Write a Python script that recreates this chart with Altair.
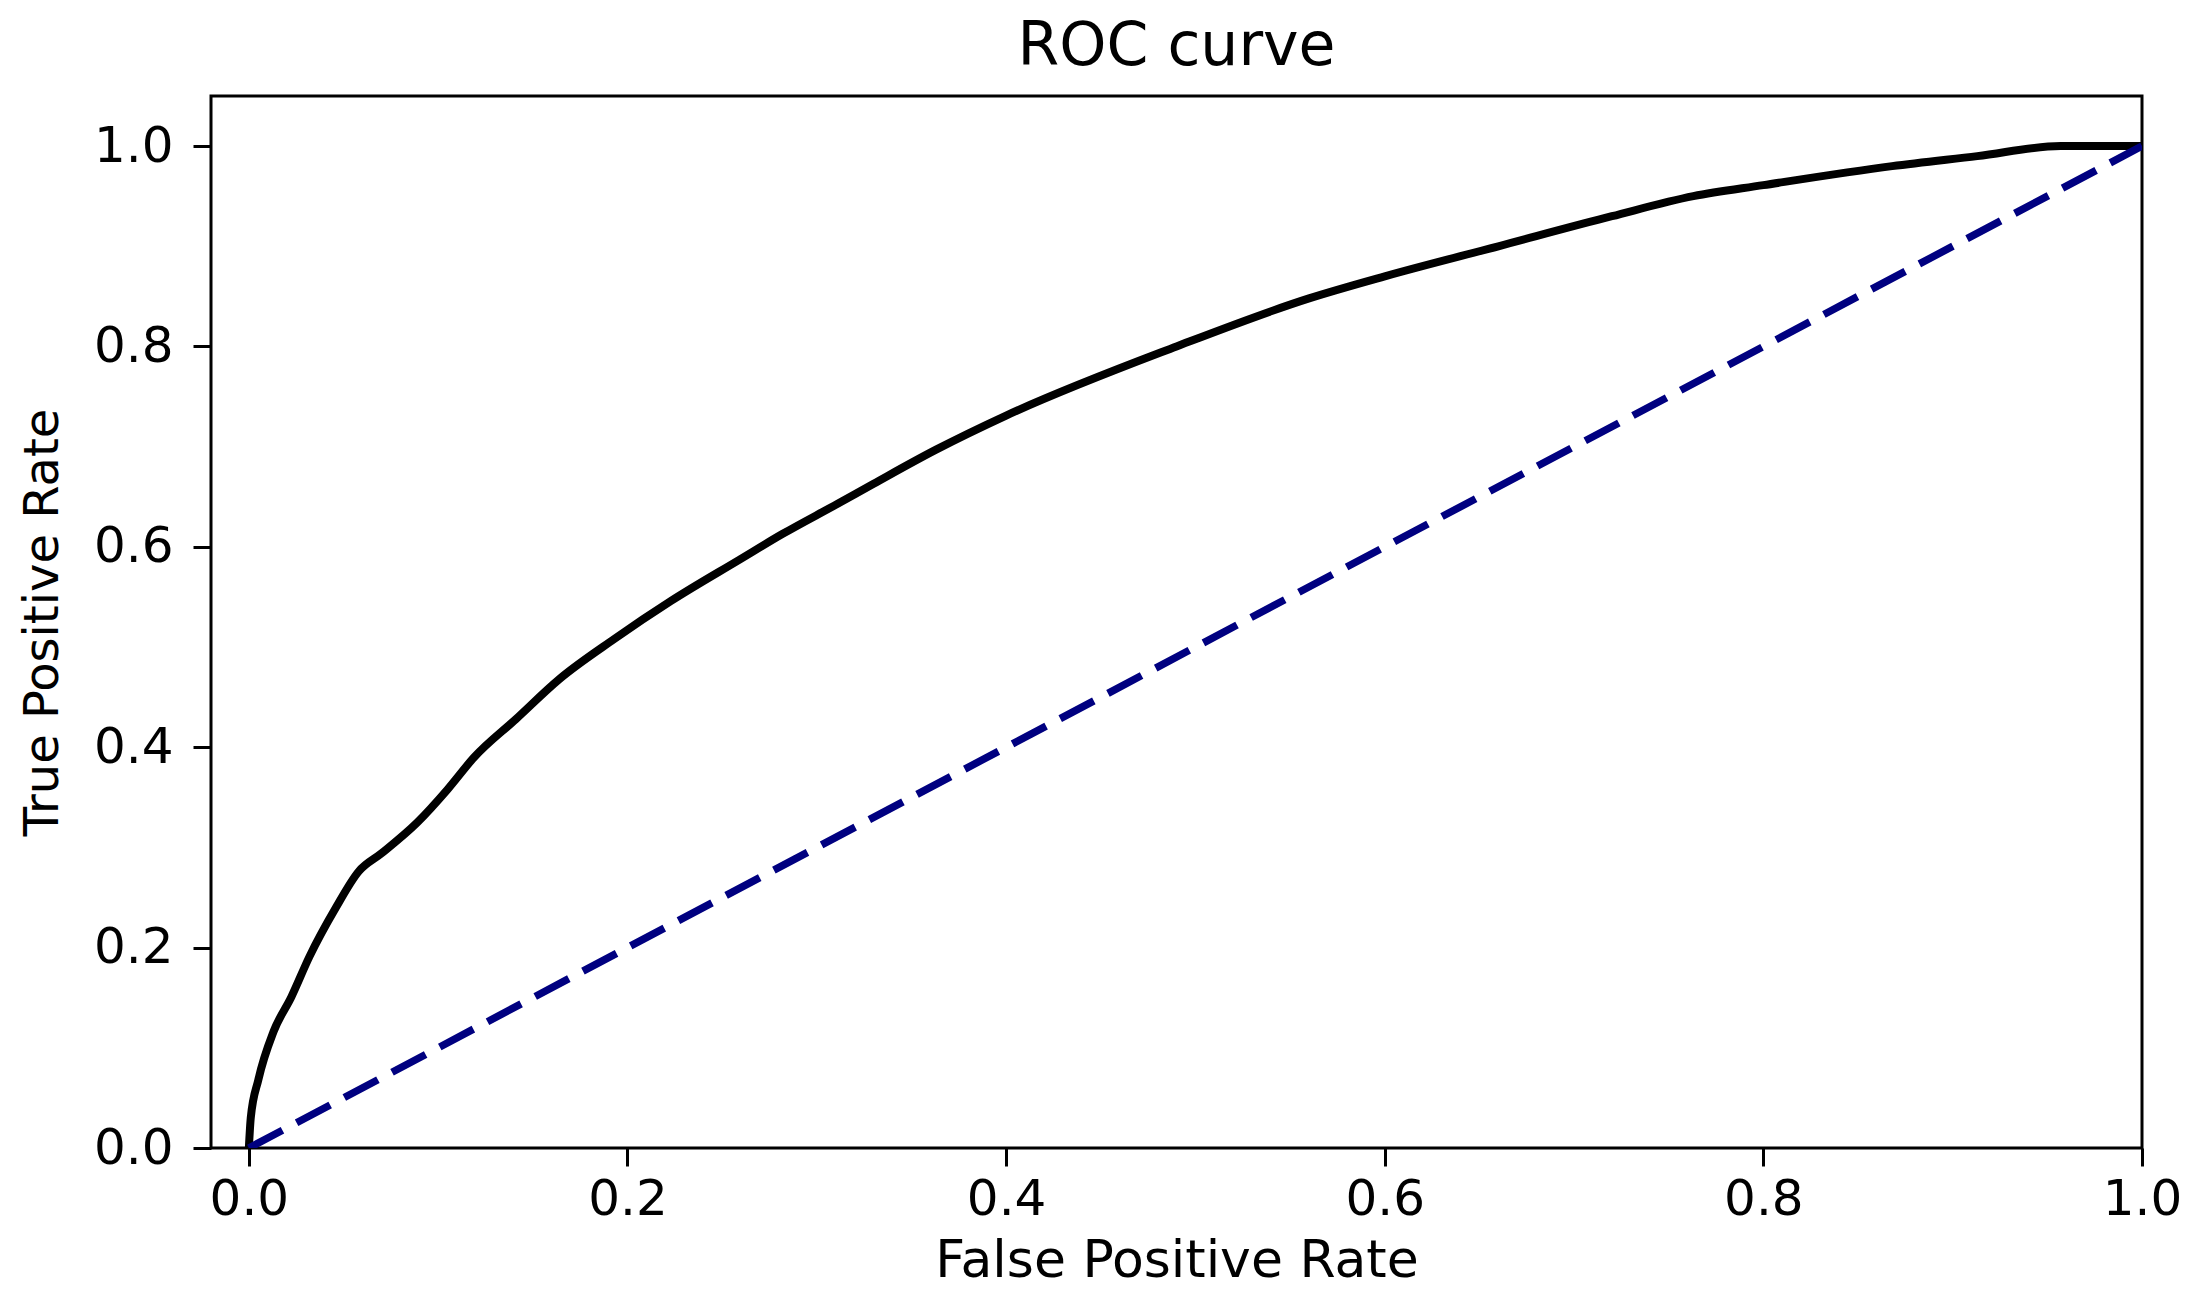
import altair as alt
import pandas as pd

# ROC curve points
fpr = [0.0, 0.001, 0.005, 0.013, 0.0225, 0.032, 0.046, 0.058, 0.070, 0.089, 0.105,
       0.119, 0.141, 0.164, 0.193, 0.223, 0.259, 0.282, 0.311, 0.330, 0.363, 0.400,
       0.490, 0.560, 0.600, 0.660, 0.720, 0.763, 0.800, 0.868, 0.913, 0.957, 1.0]
tpr = [0.0, 0.030, 0.068, 0.116, 0.151, 0.191, 0.240, 0.276, 0.294, 0.325, 0.358,
       0.390, 0.428, 0.468, 0.508, 0.546, 0.587, 0.613, 0.643, 0.663, 0.697, 0.731,
       0.800, 0.848, 0.870, 0.900, 0.930, 0.950, 0.961, 0.980, 0.990, 1.000, 1.0]
diag_x = [0.0, 1.0]
diag_y = [0.0, 1.0]
ticks = [0.0, 0.2, 0.4, 0.6, 0.8, 1.0]

roc = pd.DataFrame({"fpr": fpr, "tpr": tpr, "order": list(range(len(fpr)))})
diag = pd.DataFrame({"fpr": diag_x, "tpr": diag_y})

FONT = "DejaVu Sans"

xscale = alt.Scale(domain=[-0.02, 1.0], nice=False, zero=False)
yscale = alt.Scale(domain=[0.0, 1.05], nice=False, zero=False)

xaxis = alt.Axis(values=ticks, format=".1f", title="False Positive Rate",
                 grid=False, domain=False, tickSize=18, tickWidth=3, tickColor="black",
                 labelFontSize=50, labelFont=FONT, labelColor="black", labelPadding=8,
                 labelFlush=False, labelOverlap=False, labelBound=False,
                 titleFontSize=52, titleFont=FONT, titleFontWeight="normal",
                 titleColor="black", titleY=112, titleBaseline="middle")
yaxis = alt.Axis(values=ticks, format=".1f", title="True Positive Rate",
                 grid=False, domain=False, tickSize=18, tickWidth=3, tickColor="black",
                 labelFontSize=50, labelFont=FONT, labelColor="black", labelPadding=20,
                 labelFlush=False, labelOverlap=False, labelBound=False,
                 titleFontSize=48, titleFont=FONT, titleFontWeight="normal",
                 titleColor="black", titleX=-168, titleAngle=-90, titleBaseline="middle")

curve = alt.Chart(roc).mark_line(color="black", strokeWidth=8, clip=True,
                                 interpolate="monotone").encode(
    x=alt.X("fpr:Q", scale=xscale, axis=xaxis),
    y=alt.Y("tpr:Q", scale=yscale, axis=yaxis),
    order="order:Q",
)

dashed = alt.Chart(diag).mark_line(color="#000080", strokeWidth=7.5,
                                   strokeDash=[38, 16], clip=True).encode(
    x=alt.X("fpr:Q", scale=xscale),
    y=alt.Y("tpr:Q", scale=yscale),
)

chart = alt.layer(curve, dashed).properties(
    width=1931,
    height=1052,
    background="white",
    title=alt.TitleParams("ROC curve", fontSize=60, font=FONT, fontWeight="normal",
                          color="black", anchor="middle", offset=18),
    autosize=alt.AutoSizeParams(type="none"),
    padding={"left": 203, "top": 88, "right": 50, "bottom": 150},
).configure_view(stroke="black", strokeWidth=3)

chart.save("out.html", embed_options={"renderer": "svg", "actions": False})
